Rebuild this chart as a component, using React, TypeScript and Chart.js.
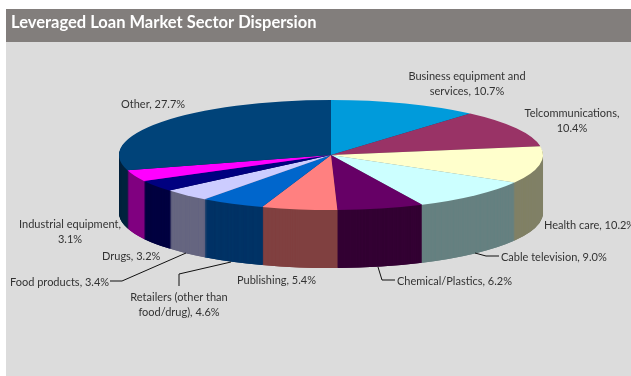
import { useEffect, useRef } from "react";
import { Chart, registerables } from "chart.js";

Chart.register(...registerables);

// Sector shares as published; the pie normalises them over their own total.
const sectors = [
  "Business equipment and\nservices",
  "Telcommunications,",
  "Health care",
  "Cable television",
  "Chemical/Plastics",
  "Publishing",
  "Retailers (other than\nfood/drug)",
  "Food products",
  "Drugs",
  "Industrial equipment,",
  "Other",
];
const shares = [10.7, 10.4, 10.2, 9.0, 6.2, 5.4, 4.6, 3.4, 3.2, 3.1, 27.7];
const topColors = [
  "#009bdb", "#993366", "#ffffcc", "#ccffff", "#660066", "#ff8080",
  "#0066cc", "#ccccff", "#000080", "#ff00ff", "#004379",
];

// Projected pie: centre, ellipse radii and wall height.
const PIE = { cx: 331, cy: 155, rx: 212, ry: 55, depth: 58 };

// Anchor for each sector's label, in the same order as the sectors.
const labelAnchors: { x: number; y: number; align: CanvasTextAlign }[] = [
  { x: 467, y: 76, align: "center" },
  { x: 572, y: 113, align: "center" },
  { x: 544, y: 225, align: "left" },
  { x: 501, y: 257, align: "left" },
  { x: 397, y: 281, align: "left" },
  { x: 237, y: 280, align: "left" },
  { x: 179, y: 297, align: "center" },
  { x: 10, y: 282, align: "left" },
  { x: 102, y: 256, align: "left" },
  { x: 70, y: 224, align: "center" },
  { x: 121, y: 104, align: "left" },
];

// Leader lines from the labels that sit away from their slices.
const leaders: number[][][] = [
  [[475, 253], [486, 256], [499, 256]],
  [[378, 267], [382, 280], [395, 280]],
  [[231, 262], [179, 274], [179, 286]],
  [[186, 253], [122, 281], [110, 281]],
];

const LABEL_FONT = "11px Lato, sans-serif";
const LABEL_LINE = 15;

const halfShade = (hex: string) => {
  const n = parseInt(hex.slice(1), 16);
  const c = [(n >> 16) & 255, (n >> 8) & 255, n & 255].map((v) => Math.round(v / 2));
  return `rgb(${c[0]},${c[1]},${c[2]})`;
};

const labelLines = (i: number) => {
  const name = sectors[i];
  const value = `${shares[i].toFixed(1)}%`;
  return name.endsWith(",") ? [name, value] : `${name}, ${value}`.split("\n");
};

const panelPlugin = {
  id: "panel",
  beforeDraw(chart: any) {
    const { ctx, width, height } = chart;
    ctx.save();
    ctx.fillStyle = "#dcdcdc";
    ctx.fillRect(6, 9, width - 6, height - 9);
    ctx.fillStyle = "#827e7c";
    ctx.fillRect(6, 9, width - 6, 33);
    ctx.restore();
  },
};

// Squashes the round pie into an ellipse and extrudes it downward as a wall.
const projectionPlugin = {
  id: "projection",
  beforeDatasetDraw(chart: any, args: any) {
    const { ctx } = chart;
    const arcs = args.meta.data;
    const { x, y, outerRadius } = arcs[0];
    const place = (dy: number) => {
      ctx.translate(PIE.cx, PIE.cy + dy);
      ctx.scale(PIE.rx / outerRadius, PIE.ry / outerRadius);
      ctx.translate(-x, -y);
    };
    for (let dy = PIE.depth; dy >= 1; dy--) {
      ctx.save();
      place(dy);
      arcs.forEach((arc: any, i: number) => {
        const own = arc.options;
        arc.options = Object.create(own, {
          backgroundColor: { value: halfShade(topColors[i]) },
        });
        // Painted twice so anti-aliased seams between neighbours stay closed.
        arc.draw(ctx);
        arc.draw(ctx);
        arc.options = own;
      });
      ctx.restore();
    }
    ctx.save();
    place(0);
  },
  afterDatasetDraw(chart: any) {
    chart.ctx.restore();
  },
};

const annotationPlugin = {
  id: "annotations",
  afterDraw(chart: any) {
    const { ctx } = chart;
    ctx.save();
    ctx.strokeStyle = "#111111";
    ctx.lineWidth = 1;
    leaders.forEach((pts) => {
      ctx.beginPath();
      pts.forEach(([px, py], k) => (k ? ctx.lineTo(px, py) : ctx.moveTo(px, py)));
      ctx.stroke();
    });
    ctx.font = LABEL_FONT;
    ctx.fillStyle = "#333333";
    ctx.textBaseline = "middle";
    labelAnchors.forEach((a, i) => {
      ctx.textAlign = a.align;
      labelLines(i).forEach((line, k) => ctx.fillText(line, a.x, a.y + k * LABEL_LINE));
    });
    ctx.restore();
  },
};

export default function App() {
  const ref = useRef<HTMLCanvasElement>(null);
  useEffect(() => {
    document.body.style.margin = "0";
    const chart = new Chart(ref.current!, {
      type: "pie",
      data: {
        labels: sectors.map((s) => s.replace("\n", " ")),
        datasets: [
          {
            data: shares,
            backgroundColor: topColors,
            borderWidth: 0,
            clip: false,
          } as any,
        ],
      },
      options: {
        responsive: false,
        animation: false,
        layout: { padding: { left: 11, top: 13, right: 0, bottom: 0 } },
        plugins: {
          legend: { display: false },
          tooltip: { enabled: false },
          title: {
            display: true,
            text: "Leveraged Loan Market Sector Dispersion",
            align: "start",
            color: "#ffffff",
            font: { family: "Lato, sans-serif", size: 16.5, weight: "bold" },
            padding: 0,
          },
        },
      },
      plugins: [panelPlugin, projectionPlugin, annotationPlugin],
    });
    return () => chart.destroy();
  }, []);
  return <canvas ref={ref} width={631} height={376} style={{ display: "block" }} />;
}
